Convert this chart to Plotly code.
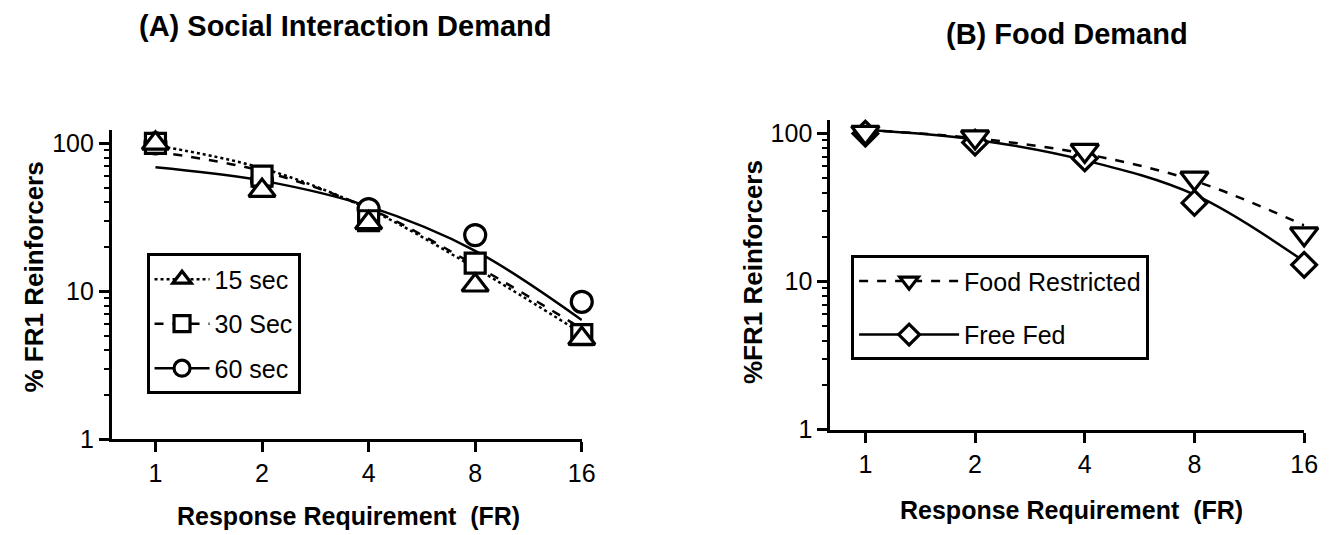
import plotly.graph_objects as go

# ---------------- data ----------------
fr = [1, 2, 4, 8, 16]

# Panel A: social interaction demand (% of FR1 reinforcers)
sec15 = [100, 48, 29, 11, 4.8]
sec30 = [100, 60, 30, 15.5, 5.1]
sec60 = [100, 56, 36, 24, 8.5]
# fitted demand curves at each FR
fit15 = [97, 68, 36, 14.4, 5.2]
fit30 = [88, 65, 36.5, 15, 5.6]
fit60 = [69, 56, 37.5, 18.8, 6.4]

# Panel B: food demand
food_restricted = [102, 95, 77, 50, 21]
free_fed = [100, 87, 68, 34, 13]
fit_restricted = [106, 93, 73, 48, 24]
fit_free = [106, 91, 66, 38.7, 13.7]

x_ticks = [1, 2, 4, 8, 16]
x_ticktext = ["1", "2", "4", "8", "16"]

# ---------------- styles ----------------
FONT = "Liberation Sans, Arial, Helvetica, sans-serif"
BLACK = "black"
LW = 2.5
MLW = 3.2

fig = go.Figure()

def line_trace(x, y, dash, xa, ya):
    return go.Scatter(x=x, y=y, mode="lines", line=dict(color=BLACK, width=LW, dash=dash, shape="spline"),
                      xaxis=xa, yaxis=ya, showlegend=False, hoverinfo="skip", cliponaxis=False)

def marker_trace(x, y, symbol, size, xa, ya, name):
    return go.Scatter(x=x, y=y, mode="markers", name=name,
                      marker=dict(symbol=symbol, size=size, color="white", line=dict(color=BLACK, width=MLW)),
                      xaxis=xa, yaxis=ya, showlegend=False, cliponaxis=False)

def legend_trace(name, symbol, dash, legend, group, xa, ya):
    return go.Scatter(x=[None], y=[None], mode="lines+markers", name=name, legend=legend, legendgroup=group,
                      line=dict(color=BLACK, width=LW, dash=dash),
                      marker=dict(symbol=symbol, size=16, color="white", line=dict(color=BLACK, width=MLW)),
                      xaxis=xa, yaxis=ya, showlegend=True)

# Panel A
fig.add_trace(line_trace(fr, fit15, "dot", "x", "y"))
fig.add_trace(line_trace(fr, fit30, "dash", "x", "y"))
fig.add_trace(line_trace(fr, fit60, "solid", "x", "y"))
fig.add_trace(marker_trace(fr, sec60, "circle", 21, "x", "y", "60 sec"))
fig.add_trace(marker_trace(fr, sec30, "square", 20, "x", "y", "30 Sec"))
fig.add_trace(marker_trace(fr, sec15, "triangle-up", 23, "x", "y", "15 sec"))
fig.add_trace(legend_trace("15 sec", "triangle-up", "dot", "legend", "a1", "x", "y"))
fig.add_trace(legend_trace("30 Sec", "square", "dash", "legend", "a2", "x", "y"))
fig.add_trace(legend_trace("60 sec", "circle", "solid", "legend", "a3", "x", "y"))

# Panel B
fig.add_trace(line_trace(fr, fit_restricted, "dash", "x2", "y2"))
fig.add_trace(line_trace(fr, fit_free, "solid", "x2", "y2"))
fig.add_trace(marker_trace(fr, free_fed, "diamond", 19, "x2", "y2", "Free Fed"))
fig.add_trace(marker_trace(fr, food_restricted, "triangle-down", 24, "x2", "y2", "Food Restricted"))
fig.add_trace(legend_trace("Food Restricted", "triangle-down", "dash", "legend2", "b1", "x2", "y2"))
fig.add_trace(legend_trace("Free Fed", "diamond", "solid", "legend2", "b2", "x2", "y2"))

W, H = 1340, 535

def xaxis_cfg(domain, rng):
    return dict(type="log", domain=domain, range=rng, tickmode="array", tickvals=x_ticks, ticktext=x_ticktext,
                showline=True, linecolor=BLACK, linewidth=3, ticks="outside", ticklen=10, tickwidth=3,
                tickcolor=BLACK, showgrid=False, zeroline=False,
                tickfont=dict(family=FONT, size=25, color=BLACK))

def yaxis_cfg(domain, anchor):
    return dict(type="log", domain=domain, range=[0, 2.092], anchor=anchor, tickmode="linear", tick0=0, dtick=1,
                showline=True, linecolor=BLACK, linewidth=3, ticks="outside", ticklen=10, tickwidth=3,
                tickcolor=BLACK, showgrid=False, zeroline=False,
                minor=dict(ticks="outside", ticklen=5, tickwidth=2, tickcolor=BLACK, dtick="D1", showgrid=False),
                tickfont=dict(family=FONT, size=25, color=BLACK))

fig.update_layout(
    width=W, height=H,
    margin=dict(l=0, r=0, t=0, b=0),
    paper_bgcolor="white", plot_bgcolor="white",
    font=dict(family=FONT, color=BLACK),
    xaxis=dict(**xaxis_cfg([105 / W, 580 / W], [-0.123, 1.2046]), anchor="y"),
    yaxis=yaxis_cfg([1 - 443 / H, 1 - 125 / H], "x"),
    xaxis2=dict(**xaxis_cfg([831 / W, 1310 / W], [-0.0962, 1.2046]), anchor="y2"),
    yaxis2=yaxis_cfg([1 - 433 / H, 1 - 115 / H], "x2"),
    legend=dict(x=140 / W, y=1 - 252 / H, xanchor="left", yanchor="top", bordercolor=BLACK, borderwidth=3,
                bgcolor="white", font=dict(family=FONT, size=25, color=BLACK), itemwidth=55,
                tracegroupgap=9, traceorder="grouped"),
    legend2=dict(x=852 / W, y=1 - 254 / H, xanchor="left", yanchor="top", bordercolor=BLACK, borderwidth=3,
                 bgcolor="white", font=dict(family=FONT, size=25, color=BLACK), itemwidth=100,
                 tracegroupgap=18, traceorder="grouped"),
    showlegend=True,
)

annotations = [
    dict(text="<b>(A) Social Interaction Demand</b>", x=341 / W, y=1 - 18 / H, size=29),
    dict(text="<b>(B) Food Demand</b>", x=1070 / W, y=1 - 27 / H, size=29),
    dict(text="<b>Response Requirement  (FR)</b>", x=344 / W, y=1 - 522 / H, size=25),
    dict(text="<b>Response Requirement  (FR)</b>", x=1075 / W, y=1 - 515 / H, size=25),
    dict(text="<b>% FR1 Reinforcers</b>", x=26 / W, y=1 - 276 / H, size=26, angle=-90),
    dict(text="<b>%FR1 Reinforcers</b>", x=753 / W, y=1 - 271 / H, size=26, angle=-90),
]
for a in annotations:
    fig.add_annotation(text=a["text"], x=a["x"], y=a["y"], xref="paper", yref="paper",
                       xanchor="center", yanchor="middle", showarrow=False,
                       textangle=a.get("angle", 0),
                       font=dict(family=FONT, size=a["size"], color=BLACK))

fig.write_html("out.html")
